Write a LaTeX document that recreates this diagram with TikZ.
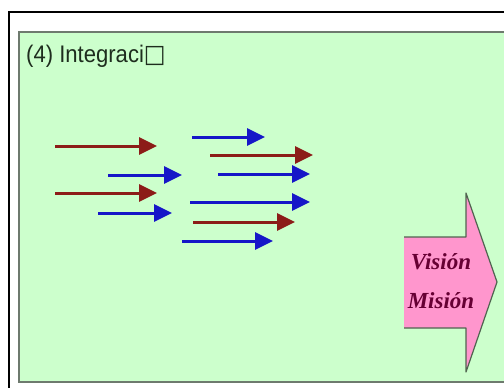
\documentclass[tikz,border=0pt]{standalone}
\usepackage{fontspec}
\setmainfont{Liberation Serif}
\newfontfamily\titlefont{Liberation Sans}
\newfontfamily\boxfont{DejaVu Sans}
\usetikzlibrary{arrows.meta}
\definecolor{panelgreen}{RGB}{204,255,204}
\definecolor{panelrim}{RGB}{110,122,110}
\definecolor{flowred}{RGB}{140,28,24}
\definecolor{flowblue}{RGB}{22,22,200}
\definecolor{signpink}{RGB}{255,150,205}
\definecolor{signrim}{RGB}{80,100,80}
\definecolor{signtext}{RGB}{102,0,51}
\definecolor{titleink}{RGB}{30,45,30}
\begin{document}
\begin{tikzpicture}[x=1pt,y=-1pt,
  flow/.style={line width=3pt,-{Triangle[length=18pt,width=17pt]}},
  redflow/.style={flow,draw=flowred},
  blueflow/.style={flow,draw=flowblue},
  signword/.style={font=\bfseries\itshape\fontsize{23}{26}\selectfont,text=signtext,inner sep=0pt}]
\useasboundingbox (0,0) rectangle (504,388);
\fill[white] (0,0) rectangle (504,388);
% outer frame
\draw[line width=1.5pt] (9,395) -- (9,12) -- (510,12);
% green panel
\draw[panelrim,line width=2pt,fill=panelgreen] (19,32) rectangle (515,382);
\node[anchor=base west,xscale=0.92,font=\titlefont\fontsize{24}{28}\selectfont,text=titleink,inner sep=0pt] (title) at (26,62) {(4) Integraci{\boxfont\fontsize{25}{28}\selectfont □}};
% flow arrows: left group
\coordinate (r1a) at (55,146);  \coordinate (r1b) at (157,146);
\coordinate (b1a) at (108,175); \coordinate (b1b) at (182,175);
\coordinate (r2a) at (55,193);  \coordinate (r2b) at (157,193);
\coordinate (b2a) at (98,213);  \coordinate (b2b) at (172,213);
% flow arrows: right group
\coordinate (b3a) at (192,137); \coordinate (b3b) at (265,137);
\coordinate (r3a) at (210,155); \coordinate (r3b) at (313,155);
\coordinate (b4a) at (218,174); \coordinate (b4b) at (310,174);
\coordinate (b5a) at (190,202); \coordinate (b5b) at (310,202);
\coordinate (r4a) at (193,222); \coordinate (r4b) at (295,222);
\coordinate (b6a) at (182,241); \coordinate (b6b) at (273,241);
\draw[redflow] (r1a) -- (r1b);
\draw[blueflow] (b1a) -- (b1b);
\draw[redflow] (r2a) -- (r2b);
\draw[blueflow] (b2a) -- (b2b);
\draw[blueflow] (b3a) -- (b3b);
\draw[redflow] (r3a) -- (r3b);
\draw[blueflow] (b4a) -- (b4b);
\draw[blueflow] (b5a) -- (b5b);
\draw[redflow] (r4a) -- (r4b);
\draw[blueflow] (b6a) -- (b6b);
% big pink arrow
\fill[signpink] (404,237) -- (466,237) -- (466,193) -- (497,282) -- (466,372) -- (466,328) -- (404,328) -- cycle;
\draw[signrim,line width=1.2pt,line join=round] (404,237) -- (466,237) -- (466,193) -- (497,282) -- (466,372) -- (466,328) -- (404,328);
\node[signword] (vision) at (441,262) {Visión};
\node[signword] (mision) at (441,301) {Misión};
\end{tikzpicture}
\end{document}
